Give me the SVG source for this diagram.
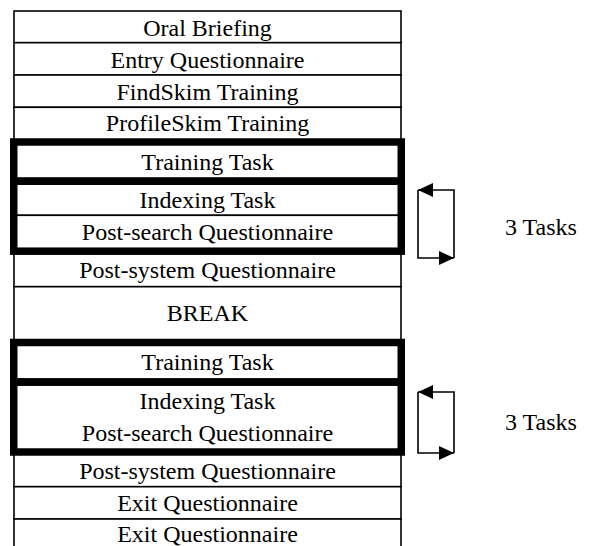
<svg xmlns="http://www.w3.org/2000/svg" width="593" height="546" viewBox="0 0 593 546">
<defs>
<style>
.row{fill:#fff;stroke:#000;stroke-width:1.6}
.thick{fill:none;stroke:#000;stroke-width:7.5}
.t{font-family:"Liberation Serif","Times New Roman",serif;font-size:24px;fill:#000;text-anchor:middle}
.lbl{font-family:"Liberation Serif","Times New Roman",serif;font-size:24px;fill:#000}
.conn{fill:none;stroke:#000;stroke-width:1.6}
</style>
<marker id="ah" markerWidth="15" markerHeight="14" refX="15" refY="7" orient="auto" markerUnits="userSpaceOnUse">
<path d="M0,0 L15,7 L0,14 z" fill="#000"/>
</marker>
</defs>
<rect width="593" height="546" fill="#fff"/>
<g id="oral-briefing"><rect class="row" x="14" y="11" width="387" height="31.7"/><text class="t" x="207.5" y="36">Oral Briefing</text></g>
<g id="entry-questionnaire"><rect class="row" x="14" y="42.7" width="387" height="32.3"/><text class="t" x="207.5" y="67.5">Entry Questionnaire</text></g>
<g id="findskim-training"><rect class="row" x="14" y="75" width="387" height="32.3"/><text class="t" x="207.5" y="99.5">FindSkim Training</text></g>
<g id="profileskim-training"><rect class="row" x="14" y="107.3" width="387" height="34.7"/><text class="t" x="207.5" y="131">ProfileSkim Training</text></g>
<g id="training-task-1"><rect class="row" x="14" y="142" width="387" height="39.2"/><text class="t" x="207.5" y="169.5">Training Task</text></g>
<g id="indexing-task-1"><rect class="row" x="14" y="181.2" width="387" height="34.1"/><text class="t" x="207.5" y="207.5">Indexing Task</text></g>
<g id="post-search-1"><rect class="row" x="14" y="215.3" width="387" height="35.9"/><text class="t" x="207.5" y="239.5">Post-search Questionnaire</text></g>
<g id="post-system-1"><rect class="row" x="14" y="251.2" width="387" height="35.5"/><text class="t" x="207.5" y="277.5">Post-system Questionnaire</text></g>
<g id="break"><rect class="row" x="14" y="286.7" width="387" height="55.8"/><text class="t" x="207.5" y="321">BREAK</text></g>
<g id="training-task-2"><rect class="row" x="14" y="342.5" width="387" height="39.5"/><text class="t" x="207.5" y="370">Training Task</text></g>
<g id="indexing-post-search-2"><rect class="row" x="14" y="382" width="387" height="70"/><text class="t" x="207.5" y="409">Indexing Task</text><text class="t" x="207.5" y="441">Post-search Questionnaire</text></g>
<g id="post-system-2"><rect class="row" x="14" y="452" width="387" height="34.7"/><text class="t" x="207.5" y="478.5">Post-system Questionnaire</text></g>
<g id="exit-questionnaire-1"><rect class="row" x="14" y="486.7" width="387" height="32.3"/><text class="t" x="207.5" y="510.5">Exit Questionnaire</text></g>
<g id="exit-questionnaire-2"><rect class="row" x="14" y="519" width="387" height="40"/><text class="t" x="207.5" y="542">Exit Questionnaire</text></g>
<g id="task-frames-1"><rect class="thick" x="13.75" y="142" width="387.5" height="39.2"/><rect class="thick" x="13.75" y="181.2" width="387.5" height="70"/></g>
<g id="task-frames-2"><rect class="thick" x="13.75" y="342.5" width="387.5" height="39.5"/><rect class="thick" x="13.75" y="382" width="387.5" height="70"/></g>
<g id="connectors">
<path class="conn" d="M454,258 L454,190 L418,190" marker-end="url(#ah)"/>
<path class="conn" d="M418,190 L418,258 L454,258" marker-end="url(#ah)"/>
<path class="conn" d="M454,453 L454,392 L418,392" marker-end="url(#ah)"/>
<path class="conn" d="M418,392 L418,453 L454,453" marker-end="url(#ah)"/>
</g>
<g id="label-1"><text class="lbl" x="505" y="235">3 Tasks</text></g>
<g id="label-2"><text class="lbl" x="505" y="430">3 Tasks</text></g>
</svg>
